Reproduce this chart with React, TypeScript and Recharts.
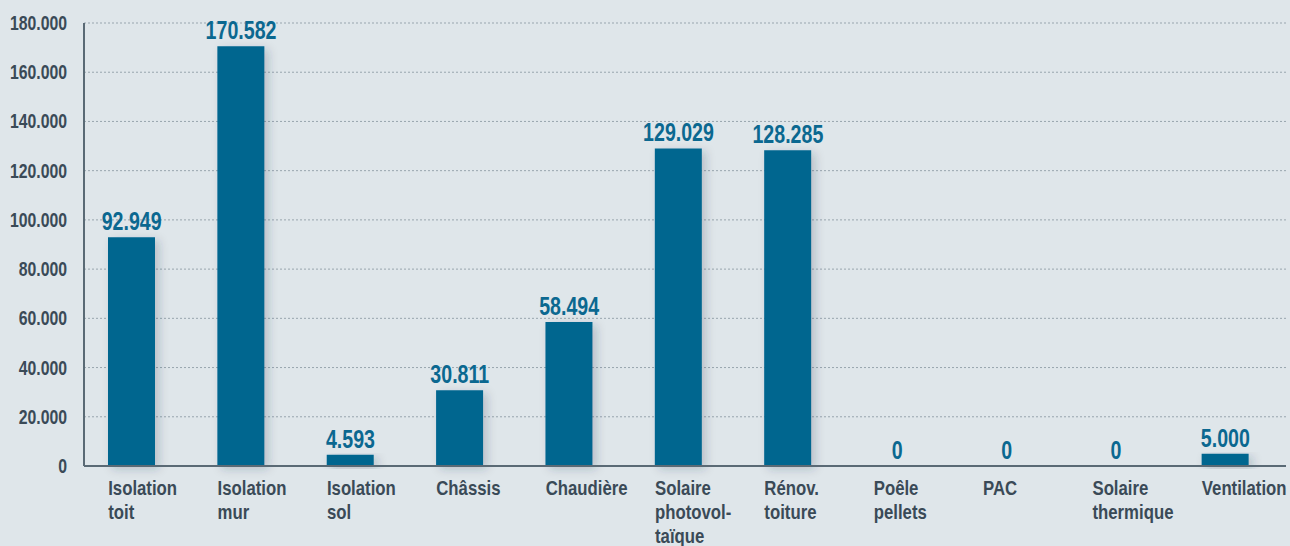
import React from 'react';
import { ComposedChart, Bar, Line, XAxis, YAxis, CartesianGrid, LabelList } from 'recharts';

const categories = [
    'Isolation toit', 'Isolation mur', 'Isolation sol', 'Châssis', 'Chaudière',
    'Solaire photovol- taïque', 'Rénov. toiture', 'Poêle pellets', 'PAC', 'Solaire thermique', 'Ventilation',
];
// label lines for the x axis
const categoryLines = [
    ['Isolation', 'toit'], ['Isolation', 'mur'], ['Isolation', 'sol'], ['Châssis'], ['Chaudière'],
    ['Solaire', 'photovol-', 'taïque'], ['Rénov.', 'toiture'], ['Poêle', 'pellets'], ['PAC'], ['Solaire', 'thermique'], ['Ventilation'],
];
const values = [92949, 170582, 4593, 30811, 58494, 129029, 128285, 0, 0, 0, 5000];
const yTicks = [0, 20000, 40000, 60000, 80000, 100000, 120000, 140000, 160000, 180000];

const FONT = '"Liberation Sans", Arial, sans-serif';
const BAR = '#00668f';
const TEXT = '#3a4a57';

const fmt = (v: number) => v.toLocaleString('de-DE');

const data = categories.map((c, i) => ({ name: c, value: values[i] }));

const XTick = (props: any) => {
    const { x, y, payload } = props;
    const lines = categoryLines[payload.index] || [payload.value];
    return (
        <g transform={`translate(${x - 23.5},${y})`}>
            <text transform="scale(0.86,1)" fill={TEXT} fontFamily={FONT} fontWeight="bold" fontSize={19.5}>
                {lines.map((l: string, i: number) => (
                    <tspan key={i} x={0} y={21 + i * 24}>{l}</tspan>
                ))}
            </text>
        </g>
    );
};

const YTick = (props: any) => {
    const { x, y, payload } = props;
    return (
        <g transform={`translate(${x},${y})`}>
            <text transform="scale(0.79,1)" textAnchor="end" y={7} fill={TEXT} fontFamily={FONT} fontWeight="bold" fontSize={20}>
                {fmt(payload.value)}
            </text>
        </g>
    );
};

const ValueLabel = (props: any) => {
    const { x, y, value } = props;
    return (
        <g transform={`translate(${x},${y - 7})`}>
            <text transform="scale(0.74,1)" textAnchor="middle" fill="#0b6890" fontFamily={FONT} fontWeight="bold" fontSize={26.5}>
                {fmt(Number(value))}
            </text>
        </g>
    );
};

const App: React.FC = () => {
    return (
        <div style={{ position: 'absolute', left: 0, top: 0, width: 1290, height: 546, background: '#dfe6ea', overflow: 'hidden' }}>
            <svg width={0} height={0} style={{ position: 'absolute' }}>
                <defs>
                    <filter id="barShadow" x="-30%" y="-10%" width="160%" height="130%">
                        <feDropShadow dx="4" dy="3" stdDeviation="5" floodColor="#1c3a4a" floodOpacity="0.22" />
                    </filter>
                </defs>
            </svg>
            <ComposedChart width={1290} height={546} data={data} margin={{ top: 23, right: 4, bottom: 0, left: 0 }}>
                <CartesianGrid vertical={false} stroke="#98a5ae" strokeDasharray="2 2" />
                <XAxis
                    dataKey="name"
                    interval={0}
                    tick={<XTick />}
                    tickLine={false}
                    axisLine={{ stroke: '#5a6a75', strokeWidth: 2 }}
                    padding={{ left: -7, right: 6 }}
                    height={80}
                />
                <YAxis
                    width={84}
                    domain={[0, 180000]}
                    ticks={yTicks}
                    tickLine={false}
                    axisLine={{ stroke: '#5a6a75', strokeWidth: 2 }}
                    tick={<YTick />}
                    tickMargin={11}
                />
                <Bar dataKey="value" fill={BAR} barSize={47} isAnimationActive={false} style={{ filter: 'url(#barShadow)' }} />
                <Line dataKey="value" stroke="none" dot={false} activeDot={false} isAnimationActive={false} legendType="none">
                    <LabelList dataKey="value" content={<ValueLabel />} />
                </Line>
            </ComposedChart>
        </div>
    );
};

export default App;
